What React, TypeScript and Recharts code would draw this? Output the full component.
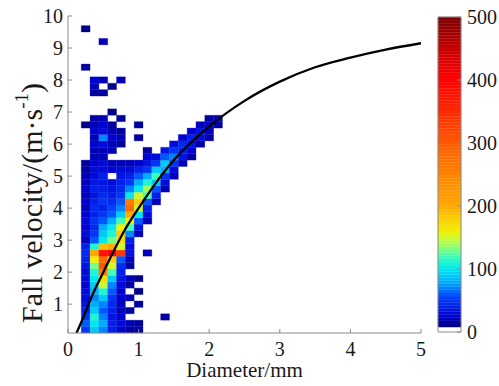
import React from 'react';
import { ComposedChart, XAxis, YAxis, Line, ReferenceArea } from 'recharts';

const FONT = 'Liberation Serif, Times New Roman, DejaVu Serif, serif';

// Diameter bin edges (mm) and fall velocity bin edges (m/s)
const colEdges = [0.1875, 0.3125, 0.4375, 0.5625, 0.6875, 0.8125, 0.9375, 1.0625, 1.1875, 1.3125, 1.4375, 1.5625, 1.6875, 1.8125, 1.9375, 2.0625, 2.1875];
const rowEdges = [0.1, 0.3, 0.5, 0.7, 0.9, 1.1, 1.3, 1.5, 1.7, 1.9, 2.1, 2.3, 2.5, 2.7, 2.9, 3.1, 3.3, 3.5, 3.7, 3.9, 4.1, 4.3, 4.5, 4.7, 4.9, 5.1, 5.3, 5.5, 5.7, 5.9, 6.1, 6.3, 6.5, 6.7, 6.9, 7.1, 7.3, 7.5, 7.7, 7.9, 8.1, 8.3, 8.5, 8.7, 8.9, 9.1, 9.3, 9.5, 9.7, 9.9];

// Counts per velocity row (bottom to top), per diameter column
const countRows: number[][] = [
  [50, 90, 70, 40, 25, 15, 15, 0, 0, 0, 0, 0, 0, 0, 0, 0],
  [60, 100, 80, 40, 30, 20, 15, 0, 0, 0, 0, 0, 0, 0, 0, 0],
  [50, 110, 70, 35, 25, 0, 0, 0, 0, 15, 0, 0, 0, 0, 0, 0],
  [40, 90, 60, 40, 20, 15, 0, 0, 0, 0, 0, 0, 0, 0, 0, 0],
  [35, 80, 70, 45, 20, 0, 15, 0, 0, 0, 0, 0, 0, 0, 0, 0],
  [30, 70, 90, 50, 25, 20, 0, 0, 0, 0, 0, 0, 0, 0, 0, 0],
  [30, 80, 110, 60, 25, 0, 10, 0, 0, 0, 0, 0, 0, 0, 0, 0],
  [25, 90, 150, 70, 30, 15, 0, 0, 0, 0, 0, 0, 0, 0, 0, 0],
  [30, 100, 170, 90, 35, 20, 10, 0, 0, 0, 0, 0, 0, 0, 0, 0],
  [30, 110, 260, 120, 40, 0, 0, 0, 0, 0, 0, 0, 0, 0, 0, 0],
  [35, 130, 300, 150, 45, 15, 0, 0, 0, 0, 0, 0, 0, 0, 0, 0],
  [40, 160, 280, 180, 60, 20, 0, 0, 0, 0, 0, 0, 0, 0, 0, 0],
  [45, 200, 380, 400, 330, 35, 0, 20, 0, 0, 0, 0, 0, 0, 0, 0],
  [40, 110, 190, 200, 150, 30, 0, 0, 0, 0, 0, 0, 0, 0, 0, 0],
  [20, 60, 100, 130, 170, 40, 0, 0, 0, 0, 0, 0, 0, 0, 0, 0],
  [30, 50, 90, 110, 180, 70, 20, 0, 0, 0, 0, 0, 0, 0, 0, 0],
  [25, 45, 80, 100, 160, 120, 35, 0, 0, 0, 0, 0, 0, 0, 0, 0],
  [30, 50, 60, 80, 120, 160, 60, 20, 0, 0, 0, 0, 0, 0, 0, 0],
  [25, 40, 50, 60, 90, 200, 100, 30, 0, 0, 0, 0, 0, 0, 0, 0],
  [20, 45, 40, 55, 70, 280, 150, 40, 0, 0, 0, 0, 0, 0, 0, 0],
  [25, 40, 50, 45, 60, 260, 180, 60, 20, 0, 0, 0, 0, 0, 0, 0],
  [20, 35, 45, 40, 50, 100, 150, 120, 40, 0, 0, 0, 0, 0, 0, 0],
  [25, 40, 40, 35, 45, 70, 100, 140, 60, 20, 0, 0, 0, 0, 0, 0],
  [20, 35, 35, 30, 40, 50, 80, 110, 90, 30, 0, 0, 0, 0, 0, 0],
  [20, 30, 40, 0, 35, 40, 60, 80, 120, 50, 20, 0, 0, 0, 0, 0],
  [15, 30, 30, 25, 30, 30, 40, 50, 90, 80, 30, 0, 0, 0, 0, 0],
  [15, 25, 30, 20, 20, 20, 25, 35, 50, 90, 50, 20, 0, 0, 0, 0],
  [0, 20, 20, 0, 0, 0, 0, 25, 30, 60, 70, 35, 15, 0, 0, 0],
  [0, 20, 20, 20, 0, 0, 0, 15, 0, 35, 50, 40, 25, 0, 0, 0],
  [0, 25, 30, 20, 15, 0, 0, 0, 0, 0, 30, 45, 35, 15, 0, 0],
  [0, 20, 70, 25, 20, 0, 15, 0, 0, 0, 0, 25, 40, 30, 15, 0],
  [0, 25, 30, 20, 15, 0, 0, 0, 0, 0, 0, 0, 25, 35, 20, 0],
  [10, 20, 25, 15, 0, 0, 15, 0, 0, 0, 0, 0, 0, 20, 25, 15],
  [0, 15, 20, 0, 15, 0, 0, 0, 0, 0, 0, 0, 0, 0, 15, 20],
  [0, 0, 0, 10, 0, 0, 0, 0, 0, 0, 0, 0, 0, 0, 0, 0],
  [0, 0, 0, 0, 0, 0, 0, 0, 0, 0, 0, 0, 0, 0, 0, 0],
  [0, 0, 0, 0, 0, 0, 0, 0, 0, 0, 0, 0, 0, 0, 0, 0],
  [0, 15, 15, 0, 0, 0, 0, 0, 0, 0, 0, 0, 0, 0, 0, 0],
  [0, 20, 0, 10, 0, 0, 0, 0, 0, 0, 0, 0, 0, 0, 0, 0],
  [0, 25, 20, 0, 20, 0, 0, 0, 0, 0, 0, 0, 0, 0, 0, 0],
  [0, 0, 0, 0, 0, 0, 0, 0, 0, 0, 0, 0, 0, 0, 0, 0],
  [15, 0, 0, 0, 0, 0, 0, 0, 0, 0, 0, 0, 0, 0, 0, 0],
  [0, 0, 0, 0, 0, 0, 0, 0, 0, 0, 0, 0, 0, 0, 0, 0],
  [0, 0, 0, 0, 0, 0, 0, 0, 0, 0, 0, 0, 0, 0, 0, 0],
  [0, 0, 0, 0, 0, 0, 0, 0, 0, 0, 0, 0, 0, 0, 0, 0],
  [0, 0, 20, 0, 0, 0, 0, 0, 0, 0, 0, 0, 0, 0, 0, 0],
  [0, 0, 0, 0, 0, 0, 0, 0, 0, 0, 0, 0, 0, 0, 0, 0],
  [10, 0, 0, 0, 0, 0, 0, 0, 0, 0, 0, 0, 0, 0, 0, 0],
  [0, 0, 0, 0, 0, 0, 0, 0, 0, 0, 0, 0, 0, 0, 0, 0],
];

// Fitted fall-velocity curve
const curveD = [0.12, 0.2, 0.3, 0.4, 0.5, 0.6, 0.8, 1.0, 1.2, 1.5, 2.0, 2.5, 3.0, 3.5, 4.0, 4.5, 5.0];
const curveV = [0.1, 0.5, 1.05, 1.55, 2.0, 2.45, 3.3, 4.0, 4.65, 5.5, 6.55, 7.35, 7.95, 8.4, 8.7, 8.95, 9.15];

const xTicks = [0, 1, 2, 3, 4, 5];
const yTicks = [1, 2, 3, 4, 5, 6, 7, 8, 9, 10];
const cbTicks = [0, 100, 200, 300, 400, 500];
const cbMax = 500;
const cbWhiteTop = 7.8;

const colorStops: [number, string][] = [
  [8, '#000080'],
  [25, '#0000d0'],
  [55, '#0040ff'],
  [78, '#00a8ff'],
  [100, '#00e8f0'],
  [120, '#40ffb8'],
  [140, '#a8ff58'],
  [160, '#f4f000'],
  [200, '#ffaa00'],
  [250, '#ff8400'],
  [300, '#ff5a00'],
  [350, '#ff2a00'],
  [400, '#ff0000'],
  [450, '#c80000'],
  [500, '#7a0000'],
];

function toRgb(h: string) {
  return [parseInt(h.slice(1, 3), 16), parseInt(h.slice(3, 5), 16), parseInt(h.slice(5, 7), 16)];
}
function colorFor(v: number): string {
  if (v <= colorStops[0][0]) return colorStops[0][1];
  for (let i = 0; i < colorStops.length - 1; i++) {
    const [a, ca] = colorStops[i];
    const [b, cb] = colorStops[i + 1];
    if (v <= b) {
      const t = (v - a) / (b - a);
      const A = toRgb(ca), B = toRgb(cb);
      const m = A.map((x, k) => Math.round(x + (B[k] - x) * t));
      return `rgb(${m[0]},${m[1]},${m[2]})`;
    }
  }
  return colorStops[colorStops.length - 1][1];
}

const curve = curveD.map((d, i) => ({ d, v: curveV[i] }));

const cells: { x1: number; x2: number; y1: number; y2: number; n: number }[] = [];
countRows.forEach((row, r) =>
  row.forEach((n, c) => {
    if (n > 0) cells.push({ x1: colEdges[c], x2: colEdges[c + 1], y1: rowEdges[r], y2: rowEdges[r + 1], n });
  })
);

const cbSteps: { y1: number; y2: number; c: string }[] = [];
{
  const N = 100;
  const step = (cbMax - cbWhiteTop) / N;
  for (let i = 0; i < N; i++) {
    const y1 = cbWhiteTop + i * step;
    cbSteps.push({ y1, y2: y1 + step, c: colorFor(y1 + step / 2) });
  }
}
const cbData = [
  { x: 0, y: 0 },
  { x: 1, y: cbMax },
];

const AXIS = '#8a8a8a';
const TXT = '#1a1a1a';

const XTick = (p: any) => (
  <text x={p.x} y={p.y} dy="0.71em" textAnchor="middle" fontFamily={FONT} fontSize={20} fill={TXT}>
    {p.payload.value}
  </text>
);
const YTickLeft = (p: any) => (
  <text x={p.x} y={p.y} dy="0.355em" textAnchor="end" fontFamily={FONT} fontSize={20} fill={TXT}>
    {p.payload.value}
  </text>
);
const YTickRight = (p: any) => (
  <text x={p.x} y={p.y} dy="0.355em" textAnchor="start" fontFamily={FONT} fontSize={20} fill={TXT}>
    {p.payload.value}
  </text>
);

export default function App() {
  return (
    <div style={{ position: 'absolute', left: 0, top: 0, width: 499, height: 386, background: '#fff', fontFamily: FONT }}>
      <div style={{ position: 'absolute', left: 0, top: 0 }}>
        <ComposedChart width={499} height={386} data={curve} margin={{ top: 16, right: 78, bottom: 0, left: 0 }}>
          <XAxis
            dataKey="d"
            type="number"
            domain={[0, 5]}
            ticks={xTicks}
            allowDataOverflow
            height={53}
            tickSize={-4}
            tickMargin={13}
            axisLine={{ stroke: AXIS }}
            tickLine={{ stroke: AXIS }}
            tick={XTick}
          />
          <XAxis
            xAxisId="top"
            orientation="top"
            type="number"
            domain={[0, 5]}
            ticks={xTicks}
            allowDataOverflow
            height={0}
            tickSize={-4}
            axisLine={{ stroke: AXIS }}
            tickLine={{ stroke: AXIS }}
            tick={false}
          />
          <YAxis
            type="number"
            domain={[0.1, 10]}
            ticks={yTicks}
            allowDataOverflow
            width={68}
            tickSize={-4}
            tickMargin={9}
            axisLine={{ stroke: AXIS }}
            tickLine={{ stroke: AXIS }}
            tick={YTickLeft}
          />
          <YAxis
            yAxisId="right"
            orientation="right"
            type="number"
            domain={[0.1, 10]}
            ticks={yTicks}
            allowDataOverflow
            width={0}
            tickSize={-4}
            axisLine={{ stroke: AXIS }}
            tickLine={{ stroke: AXIS }}
            tick={false}
          />
          {cells.map((c, i) => (
            <ReferenceArea
              key={i}
              x1={c.x1}
              x2={c.x2}
              y1={c.y1}
              y2={c.y2}
              fill={colorFor(c.n)}
              fillOpacity={1}
              stroke={colorFor(c.n)}
              strokeWidth={0.3}
            />
          ))}
          <Line
            dataKey="v"
            type="monotone"
            stroke="#000"
            strokeWidth={2.3}
            dot={false}
            activeDot={false}
            isAnimationActive={false}
          />
        </ComposedChart>
      </div>
      <div style={{ position: 'absolute', left: 0, top: 0 }}>
        <ComposedChart width={499} height={386} data={cbData} margin={{ top: 17, right: 0, bottom: 54, left: 438 }}>
          <XAxis dataKey="x" type="number" domain={[0, 1]} allowDataOverflow hide />
          <YAxis
            orientation="right"
            type="number"
            dataKey="y"
            domain={[0, cbMax]}
            ticks={cbTicks}
            allowDataOverflow
            width={38}
            tickSize={-4}
            tickMargin={10}
            axisLine={false}
            tickLine={{ stroke: AXIS }}
            tick={YTickRight}
          />
          {cbSteps.map((s, i) => (
            <ReferenceArea key={i} x1={0} x2={1} y1={s.y1} y2={s.y2} fill={s.c} fillOpacity={1} stroke={s.c} strokeWidth={0.3} />
          ))}
          <ReferenceArea x1={0} x2={1} y1={0} y2={cbMax} fill="none" fillOpacity={0} stroke={AXIS} strokeWidth={1} />
          <Line dataKey="y" stroke="none" dot={false} activeDot={false} isAnimationActive={false} />
        </ComposedChart>
      </div>
      <svg width={499} height={386} style={{ position: 'absolute', left: 0, top: 0, pointerEvents: 'none' }}>
        <text
          x={31}
          y={203}
          transform="rotate(-90 31 203)"
          textAnchor="middle"
          dominantBaseline="central"
          fontFamily={FONT}
          fontSize={30}
          fill={TXT}
        >
          Fall velocity/(m·s<tspan dy={-10} fontSize={19}>-1</tspan>
          <tspan dy={10}>)</tspan>
        </text>
        <text x={244.5} y={377} textAnchor="middle" fontFamily={FONT} fontSize={21} fill={TXT}>
          Diameter/mm
        </text>
      </svg>
    </div>
  );
}
